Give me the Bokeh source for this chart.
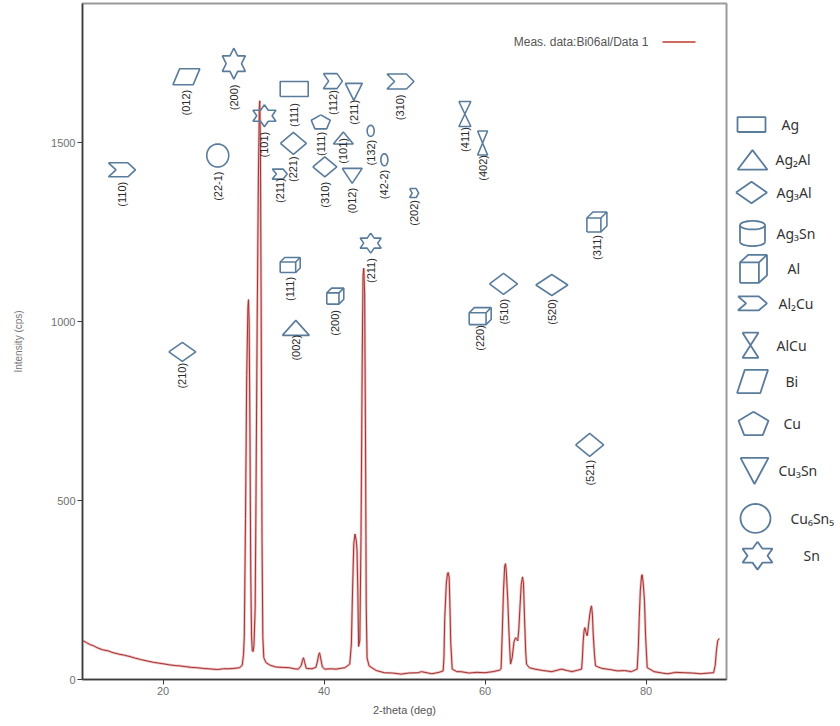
import math
from bokeh.plotting import figure
from bokeh.layouts import row
from bokeh.models import ColumnDataSource, Range1d, FixedTicker, Label
from bokeh.core.properties import value
from bokeh.embed import file_html
from bokeh.resources import INLINE

# ---------------- data ----------------
two_theta = [10.0, 10.1, 10.5, 11.0, 11.4, 11.8, 12.5, 13.2, 13.8, 14.5, 15.2, 15.9, 16.5, 17.2, 18.0,
             18.8, 19.4, 20.0, 20.8, 21.5, 22.1, 22.8, 23.5, 24.2, 25.0, 25.6, 26.2, 26.8, 27.5, 28.2,
             28.8, 29.5, 29.85, 30.0, 30.1, 30.25, 30.4, 30.55, 30.62, 30.7, 30.8, 30.9, 31.0, 31.1,
             31.2, 31.3, 31.45, 31.55, 31.7, 31.85, 31.97, 32.02, 32.1, 32.2, 32.3, 32.4, 32.52, 32.8,
             33.3, 34.0, 34.8, 35.7, 36.3, 36.8, 37.15, 37.35, 37.45, 37.6, 37.8, 38.5, 39.0, 39.2,
             39.35, 39.45, 39.6, 39.8, 40.1, 40.8, 41.5, 42.0, 42.6, 43.2, 43.4, 43.55, 43.7, 43.85,
             44.0, 44.1, 44.2, 44.3, 44.45, 44.6, 44.75, 44.85, 44.94, 45.05, 45.15, 45.25, 45.35,
             45.6, 46.5, 47.5, 48.5, 49.6, 50.5, 51.7, 52.1, 53.4, 54.3, 54.8, 54.9, 55.0, 55.2, 55.35,
             55.43, 55.55, 55.65, 55.75, 55.93, 56.5, 57.0, 58.0, 59.0, 60.0, 61.0, 61.8, 62.0, 62.14,
             62.3, 62.45, 62.55, 62.65, 62.83, 63.0, 63.17, 63.38, 63.6, 63.79, 63.95, 64.07, 64.2,
             64.32, 64.5, 64.66, 64.78, 64.91, 65.05, 65.16, 65.5, 66.2, 67.2, 68.3, 69.5, 70.2, 70.8,
             71.5, 72.0, 72.1, 72.2, 72.3, 72.4, 72.55, 72.7, 72.85, 73.02, 73.15, 73.23, 73.35, 73.44,
             73.6, 73.73, 74.5, 75.5, 76.5, 77.3, 78.2, 78.9, 79.05, 79.16, 79.3, 79.45, 79.53, 79.65,
             79.81, 79.95, 80.15, 81.0, 82.0, 82.7, 83.7, 84.8, 85.8, 86.8, 87.8, 88.4, 88.6, 88.75,
             88.9, 89.1]
counts = [110, 108, 103, 97, 94, 89, 83, 80, 75, 71, 68, 64, 60, 56, 52,
          48, 46, 44, 41, 39, 38, 36, 34, 33, 31, 30, 29, 28, 30, 30,
          31, 33, 40, 70, 120, 450, 850, 1040, 1062, 1000, 700, 300, 120, 80,
          78, 95, 200, 500, 1000, 1400, 1600, 1618, 1500, 1000, 400, 120, 61, 47,
          40, 35, 34, 33, 30, 29, 38, 55, 61, 48, 31, 30, 34, 52,
          70, 75, 58, 35, 29, 30, 29, 31, 33, 43, 99, 250, 380, 407,
          390, 362, 250, 92, 110, 400, 900, 1130, 1150, 1080, 700, 200, 60,
          38, 25, 19, 18, 15, 18, 19, 22, 16, 20, 24, 60, 173, 270, 297,
          299, 285, 200, 100, 29, 22, 22, 18, 20, 19, 22, 26, 30, 127,
          250, 318, 324, 300, 220, 120, 43, 61, 105, 117, 112, 108, 140,
          192, 265, 287, 270, 173, 80, 43, 33, 29, 25, 22, 29, 25, 22,
          26, 29, 60, 108, 135, 145, 132, 122, 150, 183, 200, 206, 180, 127,
          70, 38, 31, 28, 24, 25, 22, 29, 90, 173, 250, 290, 293, 270,
          220, 120, 33, 22, 18, 16, 20, 19, 18, 16, 18, 19, 40, 80,
          108, 115]

ref_phase = ["Al2Cu", "Bi", "Cu6Sn5", "Sn", "Sn", "Ag", "Al2Cu", "Ag3Al", "Cu", "Ag3Al",
             "Al2Cu", "Cu3Sn", "Ag2Al", "Cu3Sn", "Cu6Sn5", "Cu6Sn5", "Al2Cu", "Al2Cu", "AlCu", "AlCu",
             "Al", "Sn", "Al", "Al", "Ag2Al", "Ag3Al", "Al", "Ag3Al", "Ag3Al", "Ag3Al"]
ref_hkl = ["(110)", "(012)", "(22-1)", "(200)", "(101)", "(111)", "(211)", "(221)", "(111)", "(310)",
           "(112)", "(211)", "(101)", "(012)", "(132)", "(42-2)", "(310)", "(202)", "(411)", "(402)",
           "(311)", "(211)", "(111)", "(200)", "(002)", "(210)", "(220)", "(510)", "(520)", "(521)"]
ref_2theta = [14.9, 22.9, 26.8, 28.8, 32.6, 36.3, 34.5, 36.2, 39.6, 40.1,
              41.1, 43.7, 42.4, 43.5, 45.8, 47.5, 49.5, 51.2, 57.5, 59.7,
              73.9, 45.8, 35.8, 41.4, 36.5, 22.4, 59.4, 62.3, 68.3, 73.0]
ref_level = [1425, 1685, 1465, 1722, 1576, 1651, 1413, 1499, 1559, 1433,
             1673, 1643, 1514, 1408, 1534, 1453, 1672, 1360, 1581, 1500,
             1279, 1220, 1159, 1072, 983, 916, 1016, 1106, 1103, 656]

legend_phase = ["Ag", "Ag2Al", "Ag3Al", "Ag3Sn", "Al", "Al2Cu", "AlCu", "Bi", "Cu", "Cu3Sn", "Cu6Sn5", "Sn"]
legend_text = ["Ag", "Ag\u2082Al", "Ag\u2083Al", "Ag\u2083Sn", "Al", "Al\u2082Cu", "AlCu", "Bi", "Cu",
               "Cu\u2083Sn", "Cu\u2086Sn\u2085", "Sn"]

x_ticks = [20, 40, 60, 80]
y_ticks = [0, 500, 1000, 1500]
series_name = "Meas. data:Bi06al/Data 1"

# ---------------- styles ----------------
MARK = "#5a7c9c"
phase_shape = {"Ag": "rect", "Ag2Al": "tri", "Ag3Al": "diamond", "Ag3Sn": "cylinder", "Al": "cube",
               "Al2Cu": "chevron", "AlCu": "hourglass", "Bi": "para", "Cu": "pentagon",
               "Cu3Sn": "invtri", "Cu6Sn5": "circle", "Sn": "star"}
mark_w = [27, 27, 22, 23, 23, 28, 15, 26, 19, 24, 19, 17, 20, 20, 7, 7, 27, 9, 12, 10,
          20, 21, 20, 17, 27, 27, 22, 28, 32, 28]
mark_h = [14, 16, 23, 31, 22, 15, 10, 22, 14, 20, 15, 17, 12, 15, 11, 12, 15, 9, 25, 24,
          20, 20, 15, 16, 15, 19, 17, 21, 21, 23]
label_gap = [12, 13, 16, 21, 16, 14, 4, 13, 10, 15, 9, 8, 0, 12, 9, 10, 13, 7, 13, 12,
             13, 15, 12, 14, 7, 11, 9, 15, 14, 15]
leg_w = [28, 30, 31, 25, 27, 29, 16, 31, 30, 28, 30, 30]
leg_h = [16, 21, 23, 27, 30, 15, 27, 25, 25, 28, 31, 30]
leg_cx = [751, 752, 751, 752, 753, 752, 750, 752, 753, 754, 755, 757]
leg_cy = [130, 168, 203, 247, 285, 322, 367, 406, 451, 502, 553, 593]
leg_tx = [781, 775, 776, 776, 787, 778, 776, 785, 783, 778, 790, 803]


def shape_paths(kind, w, h):
    hw, hh = w / 2.0, h / 2.0
    if kind == "rect":
        return [[(-hw, -hh), (hw, -hh), (hw, hh), (-hw, hh), (-hw, -hh)]]
    if kind == "tri":
        return [[(-hw, -hh), (hw, -hh), (0, hh), (-hw, -hh)]]
    if kind == "invtri":
        return [[(-hw, hh), (hw, hh), (0, -hh), (-hw, hh)]]
    if kind == "diamond":
        return [[(-hw, 0), (0, hh), (hw, 0), (0, -hh), (-hw, 0)]]
    if kind == "chevron":
        n = 0.28 * w
        return [[(-hw, hh), (hw - n, hh), (hw, 0), (hw - n, -hh), (-hw, -hh), (-hw + n, 0), (-hw, hh)]]
    if kind == "para":
        s = 0.25 * w
        return [[(-hw, -hh), (hw - s, -hh), (hw, hh), (-hw + s, hh), (-hw, -hh)]]
    if kind == "hourglass":
        return [[(-hw, hh), (hw, hh), (-hw, -hh), (hw, -hh), (-hw, hh)]]
    if kind == "pentagon":
        ry = h / 1.809
        rx = hw / 0.951
        pts = []
        for k in range(6):
            a = math.radians(90 + 72 * k)
            pts.append((rx * math.cos(a), ry * math.sin(a) - 0.0955 * ry))
        return [pts]
    if kind == "star":
        rx, ry = hw / 0.866, hh
        pts = []
        for k in range(13):
            a = math.radians(90 + 30 * k)
            r = 1.0 if k % 2 == 0 else 1 / math.sqrt(3)
            pts.append((rx * r * math.cos(a), ry * r * math.sin(a)))
        return [pts]
    if kind == "circle":
        return [[(hw * math.cos(2 * math.pi * t / 48), hh * math.sin(2 * math.pi * t / 48)) for t in range(49)]]
    if kind == "cube":
        d = 0.3 * min(w, h)
        front = [(-hw, -hh), (hw - d, -hh), (hw - d, hh - d), (-hw, hh - d), (-hw, -hh)]
        top = [(-hw, hh - d), (-hw + d, hh), (hw, hh), (hw - d, hh - d)]
        side = [(hw, hh), (hw, -hh + d), (hw - d, -hh)]
        return [front, top, side]
    if kind == "cylinder":
        e = 0.17 * h
        top = [(hw * math.cos(2 * math.pi * t / 48), hh - e + e * math.sin(2 * math.pi * t / 48)) for t in range(49)]
        bottom = [(hw * math.cos(math.pi + math.pi * t / 24), -hh + e + e * math.sin(math.pi + math.pi * t / 24)) for t in range(25)]
        return [top, [(-hw, hh - e), (-hw, -hh + e)], [(hw, hh - e), (hw, -hh + e)], bottom]
    return []


# ---------------- main plot ----------------
X0, X1, Y0, Y1 = 10, 90, 0, 1890
FW, FH = 644, 676
ux, uy = (X1 - X0) / FW, (Y1 - Y0) / FH

p = figure(width=728, height=726, x_range=Range1d(X0, X1), y_range=Range1d(Y0, Y1),
           output_backend="svg", toolbar_location=None,
           min_border_left=82, min_border_right=2, min_border_top=3, min_border_bottom=47)
p.background_fill_color = "white"
p.border_fill_color = "white"
p.grid.visible = False
p.outline_line_color = "#9a9a9a"
p.outline_line_width = 2

for ax in (p.xaxis[0], p.yaxis[0]):
    ax.axis_line_color = "#3c3c3c"
    ax.axis_line_width = 1.5
    ax.major_tick_line_color = "#3c3c3c"
    ax.major_tick_in = 0
    ax.major_tick_out = 5
    ax.minor_tick_line_color = None
    ax.major_label_text_font = "Liberation Sans"
    ax.major_label_text_font_size = "11px"
    ax.major_label_text_color = "#707070"
    ax.major_label_standoff = 2
    ax.axis_label_text_font = "Liberation Sans"
    ax.axis_label_text_font_style = "normal"
    ax.axis_label_text_color = "#555555"

p.xaxis.ticker = FixedTicker(ticks=x_ticks)
p.yaxis.ticker = FixedTicker(ticks=y_ticks)
p.xaxis.axis_label = "2-theta (deg)"
p.xaxis.axis_label_text_font_size = "11px"
p.xaxis.axis_label_standoff = 6
p.yaxis.axis_label = "Intensity (cps)"
p.yaxis.axis_label_text_font_size = "10px"
p.yaxis.axis_label_text_color = "#777777"
p.yaxis.axis_label_standoff = 24

curve = ColumnDataSource(dict(x=two_theta, y=counts))
p.line("x", "y", source=curve, line_color="#eebcbc", line_width=2.6)
p.line("x", "y", source=curve, line_color="#a23434", line_width=1.0)

mxs, mys = [], []
for ph, x, y, w, h in zip(ref_phase, ref_2theta, ref_level, mark_w, mark_h):
    for path in shape_paths(phase_shape[ph], w, h):
        mxs.append([x + dx * ux for dx, dy in path])
        mys.append([y + dy * uy for dx, dy in path])
p.multi_line(mxs, mys, line_color=MARK, line_width=1.6)

lab = ColumnDataSource(dict(x=ref_2theta, y=ref_level, t=ref_hkl, off=label_gap))
p.text("x", "y", text="t", y_offset="off", source=lab, angle=math.pi / 2,
       text_align="right", text_baseline="middle", text_font=value("Liberation Sans"),
       text_font_size="11px", text_color="#2a2a2a")

# series legend (text left, sample line right)
p.add_layout(Label(x=X0 + (648 - 82) * ux, y=(679.5 - 42) * uy, text=series_name,
                   text_align="right", text_baseline="middle", text_font="Liberation Sans",
                   text_font_size="12px", text_color="#555555"))
p.segment(x0=[X0 + (662 - 82) * ux], y0=[(679.5 - 42) * uy], x1=[X0 + (695 - 82) * ux],
          y1=[(679.5 - 42) * uy], line_color="#c0392b", line_width=1.5)

# ---------------- phase legend ----------------
q = figure(width=112, height=726, x_range=Range1d(728, 840), y_range=Range1d(726, 0),
           output_backend="svg", toolbar_location=None, min_border=0,
           x_axis_location=None, y_axis_location=None)
q.grid.visible = False
q.outline_line_color = None
q.background_fill_color = "white"
q.border_fill_color = "white"

lxs, lys = [], []
for ph, cx, cy, w, h in zip(legend_phase, leg_cx, leg_cy, leg_w, leg_h):
    for path in shape_paths(phase_shape[ph], w, h):
        lxs.append([cx + dx for dx, dy in path])
        lys.append([cy - dy for dx, dy in path])
q.multi_line(lxs, lys, line_color=MARK, line_width=1.8)
q.text(x=leg_tx, y=leg_cy, text=legend_text, text_align="left", text_baseline="middle",
       text_font=value("Noto Sans"), text_font_size="14px", text_color="#333333")

layout = row(p, q)
open("out.html", "w").write(file_html(layout, INLINE))
